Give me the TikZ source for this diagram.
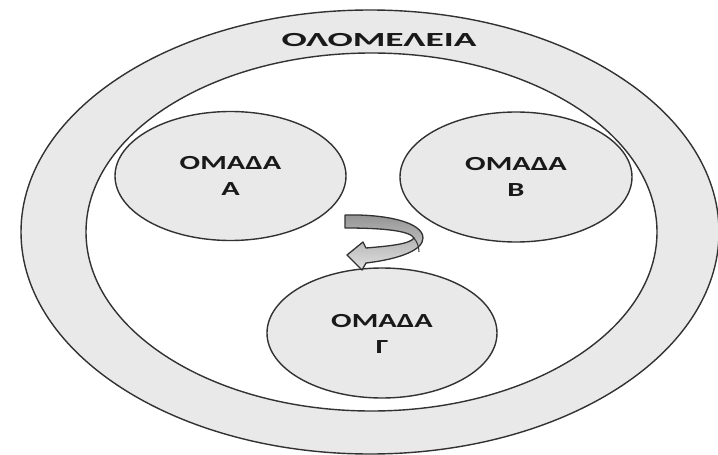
\documentclass[tikz,border=0pt]{standalone}
\usepackage{fontspec}
\setmainfont{Carlito}
\usetikzlibrary{shapes.geometric}
\definecolor{ringfill}{RGB}{233,233,233}
\definecolor{edge}{RGB}{50,50,50}
\begin{document}
\begin{tikzpicture}[x=1pt,y=-1pt,
  blob/.style={draw=edge, line width=1.4pt, fill=ringfill, ellipse, inner sep=0pt},
  grouplabel/.style={align=center, font=\fontsize{20}{26}\selectfont\bfseries, text=black!90},
  arrowshape/.style={draw=edge, line width=1.3pt, top color=black!42, bottom color=black!12}]
\useasboundingbox (0,0) rectangle (718,455);
\clip (0,0) rectangle (718,455);
\fill[white] (0,0) rectangle (718,455);
% outer ring
\node[blob, minimum width=698pt, minimum height=444pt] (outer) at (370,232) {};
\node[draw=edge, line width=1.4pt, fill=white, ellipse, inner sep=0pt,
      minimum width=571pt, minimum height=358pt] (inner) at (371.5,232) {};
\node[grouplabel] (title) at (379,40) {\scalebox{1.87}[1]{ΟΛΟΜΕΛΕΙΑ}};
% groups
\node[blob, minimum width=231pt, minimum height=129pt] (ga) at (230.5,176) {};
\node[grouplabel] (la) at (ga.center) {\scalebox{1.52}[1]{ΟΜΑΔΑ}\\\scalebox{1.52}[1]{Α}};
\node[blob, minimum width=232pt, minimum height=130pt] (gb) at (516,177) {};
\node[grouplabel] (lb) at (gb.center) {\scalebox{1.52}[1]{ΟΜΑΔΑ}\\\scalebox{1.52}[1]{Β}};
\node[blob, minimum width=230pt, minimum height=130pt] (gc) at (382,333) {};
\node[grouplabel] (lc) at ([yshift=-1pt]gc.center) {\scalebox{1.52}[1]{ΟΜΑΔΑ}\\\scalebox{1.52}[1]{Γ}};
% curved arrow
\draw[arrowshape, line join=round] (345,215) .. controls (385,214) and (423,222) .. (423,238)
  .. controls (423,250) and (400,259) .. (366,263)
  -- (362,270) -- (347,255) -- (363,242) -- (366,248)
  .. controls (390,246) and (410,244) .. (414,238)
  .. controls (410,231) and (385,228) .. (345,228) -- cycle;
\draw[edge, line width=1pt] (414,238) .. controls (417,242) and (419,246) .. (419,252);
\end{tikzpicture}
\end{document}
